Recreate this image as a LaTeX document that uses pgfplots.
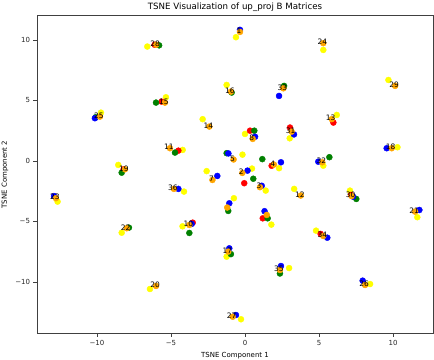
\documentclass[border=0pt]{standalone}
\usepackage{fontspec}
\setmainfont{DejaVu Sans}
\usepackage{pgfplots}
\usepackage{pgfplotstable}
\pgfplotsset{compat=1.18}
\definecolor{myyellow}{HTML}{FFFF00}
\definecolor{myred}{HTML}{FF0000}
\definecolor{mygreen}{HTML}{008000}
\definecolor{myblue}{HTML}{0000FF}
\definecolor{myorange}{HTML}{FFA500}

\pgfplotstableread{
x y
-6.6 9.45
-5.34 5.26
-9.73 3.99
-0.61 10.22
-1.24 6.28
-2.86 3.45
0.0 2.23
3.02 1.87
5.29 9.17
9.69 6.69
6.2 3.8
-8.56 -0.33
-12.66 -3.36
-8.33 -5.93
-4.21 0.91
-0.17 0.52
2.3 -0.6
-2.59 -0.84
0.47 -0.63
1.4 -2.45
-4.12 -2.53
3.32 -2.31
-0.75 -3.08
1.78 -5.26
-4.22 -5.4
-1.24 -7.91
10.3 1.13
5.29 -0.39
7.09 -2.45
11.64 -4.65
4.8 -5.76
-6.42 -10.58
2.98 -8.85
-0.27 -13.08
8.45 -10.17
}\yellowdata

\pgfplotstableread{
x y
-6.1 9.6
-5.63 4.9
0.34 2.5
3.04 2.76
5.97 3.17
-4.5 0.85
-8.2 -0.69
1.8 -0.4
-0.05 -1.84
1.2 -4.74
-3.53 -5.1
7.16 -2.81
5.11 -6.03
}\reddata

\pgfplotstableread{
x y
-5.8 9.55
-6.01 4.82
-10.09 3.61
-0.9 5.65
2.64 6.2
0.63 2.5
-4.73 0.69
-1.24 0.64
1.17 0.15
5.7 0.31
0.56 -1.47
-8.33 -0.97
-7.84 -5.51
-1.13 -4.13
1.53 -4.74
-3.76 -5.95
-0.95 -7.7
7.52 -3.14
2.36 -9.3
}\greendata

\pgfplotstableread{
x y
-10.14 3.53
-0.34 10.83
2.3 5.37
0.68 2.0
3.31 2.19
-1.12 0.62
2.43 -0.11
-1.87 -1.24
0.17 -0.8
1.13 -2.05
-4.5 -2.31
-12.9 -2.9
-1.06 -3.5
1.32 -4.15
-3.6 -5.2
-1.06 -7.22
9.57 1.05
4.95 -0.06
7.3 -2.95
11.78 -4.05
5.56 -6.34
2.43 -8.68
-0.61 -12.73
7.95 -9.89
}\bluedata

\pgfplotstableread{
x y label
-6.0 9.6 28
-5.41 4.82 15
-9.8 3.66 25
-0.34 10.66 1
-0.95 5.73 16
2.59 6.0 33
-2.41 2.84 14
0.52 1.82 8
3.15 2.42 31
5.29 9.73 24
10.14 6.2 29
5.86 3.45 13
-5.07 1.05 11
-0.77 0.12 5
1.95 -0.3 4
-2.2 -1.57 7
-0.18 -0.99 2
1.01 -2.17 3
-4.8 -2.31 36
3.77 -2.86 12
-8.11 -0.69 19
-12.77 -3.08 23
-7.99 -5.56 22
-3.76 -5.29 10
-1.13 -7.49 17
9.91 1.05 18
5.22 -0.11 32
7.2 -2.9 30
11.49 -4.19 21
5.29 -6.2 34
-6.01 -10.33 20
2.36 -9.01 35
-0.83 -12.87 27
8.11 -10.25 26
}\orangedata

\pgfplotstableread{
x y
-1.2 -3.85
1.47 -4.46
}\orangeextra

\begin{document}
\begin{tikzpicture}
\begin{axis}[
  scale only axis,
  width=396bp, height=317.6bp,
  xmin=-14.05, xmax=12.7, ymin=-14.24, ymax=12.0,
  xtick={-10,-5,0,5,10}, xticklabels={−10,−5,0,5,10},
  ytick={-10,-5,0,5,10}, yticklabels={−10,−5,0,5,10},
  tick pos=left, tick align=outside, major tick length=3.5bp,
  tick style={black!75, line width=0.6bp},
  axis line style={black!75, line width=0.6bp},
  ticklabel style={font=\fontsize{7}{8}\selectfont, text=black!85},
  title={TSNE Visualization of up\_proj B Matrices},
  title style={font=\fontsize{8.7}{10}\selectfont, yshift=-5bp},
  xlabel={TSNE Component 1}, ylabel={TSNE Component 2},
  label style={font=\fontsize{7}{8}\selectfont},
  clip=false,
]
\addplot[only marks, mark=*, mark size=3bp, myyellow] table {\yellowdata};
\addplot[only marks, mark=*, mark size=3bp, myred] table {\reddata};
\addplot[only marks, mark=*, mark size=3bp, mygreen] table {\greendata};
\addplot[only marks, mark=*, mark size=3bp, myblue] table {\bluedata};
\addplot[only marks, mark=*, mark size=3bp, myorange] table[x=x, y=y] {\orangedata};
\addplot[only marks, mark=*, mark size=3bp, myorange] table {\orangeextra};
\addplot[only marks, mark=none, nodes near coords, point meta=explicit symbolic,
  nodes near coords align=center,
  every node near coord/.append style={anchor=center, inner sep=0pt, xshift=-1bp, yshift=1bp,
    font=\fontsize{7.5}{8}\selectfont, text=black}]
  table[x=x, y=y, meta=label] {\orangedata};
\end{axis}
\pgfresetboundingbox
\path ([xshift=-37bp,yshift=-26.7bp]current axis.south west) rectangle ([xshift=1bp,yshift=15.7bp]current axis.north east);
\end{tikzpicture}
\end{document}
